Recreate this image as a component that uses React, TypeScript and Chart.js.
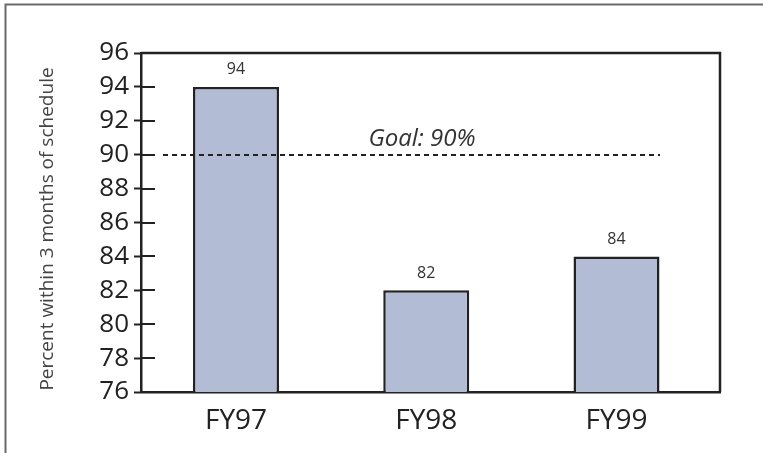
import React, { useEffect, useRef } from "react";
import { Chart, registerables } from "chart.js";

Chart.register(...registerables);

// Fiscal years and share of projects finished within 3 months of schedule (%)
const categories = ["FY97", "FY98", "FY99"];
const percentValues = [94, 82, 84];
const yTicks = [76, 78, 80, 82, 84, 86, 88, 90, 92, 94, 96];
const goalValue = 90;
const goalLabel = "Goal: 90%";
const yAxisTitle = "Percent within 3 months of schedule";

const FONT = "'Open Sans', 'Liberation Sans', sans-serif";
const INK = "#222222";

const decorPlugin = {
  id: "decor",
  beforeDraw(chart: any) {
    const { ctx } = chart;
    ctx.save();
    // outer frame (top and left edges)
    ctx.strokeStyle = "#6a6a6a";
    ctx.lineWidth = 2;
    ctx.beginPath();
    ctx.moveTo(5.5, chart.height);
    ctx.lineTo(5.5, 4.5);
    ctx.lineTo(chart.width, 4.5);
    ctx.stroke();

    // rotated axis title
    ctx.fillStyle = "#444";
    ctx.font = `19px ${FONT}`;
    ctx.textAlign = "center";
    ctx.textBaseline = "middle";
    ctx.translate(48, 229);
    ctx.rotate(-Math.PI / 2);
    ctx.fillText(yAxisTitle, 0, 0);
    ctx.restore();
  },
  afterDatasetsDraw(chart: any) {
    const { ctx, chartArea } = chart;
    const y = chart.scales.y;
    ctx.save();
    // plot frame: top and right edges
    ctx.strokeStyle = INK;
    ctx.lineWidth = 2.5;
    ctx.beginPath();
    ctx.moveTo(chartArea.left, chartArea.top);
    ctx.lineTo(chartArea.right, chartArea.top);
    ctx.lineTo(chartArea.right, chartArea.bottom);
    ctx.stroke();

    // inner part of the y tick marks
    ctx.lineWidth = 2;
    ctx.beginPath();
    yTicks.slice(1, -1).forEach((v) => {
      const py = Math.round(y.getPixelForValue(v));
      ctx.moveTo(chartArea.left, py);
      ctx.lineTo(chartArea.left + 14, py);
    });
    ctx.stroke();

    // goal line
    const gy = Math.round(y.getPixelForValue(goalValue));
    ctx.setLineDash([5, 4]);
    ctx.beginPath();
    ctx.moveTo(chartArea.left + 22, gy);
    ctx.lineTo(chartArea.right - 60, gy);
    ctx.stroke();
    ctx.setLineDash([]);

    ctx.fillStyle = "#333";
    ctx.font = `italic 24px ${FONT}`;
    ctx.textAlign = "center";
    ctx.textBaseline = "alphabetic";
    ctx.fillText(goalLabel, 422, gy - 9);

    // value labels over bars
    ctx.font = `16px ${FONT}`;
    ctx.textBaseline = "middle";
    const meta = chart.getDatasetMeta(0);
    meta.data.forEach((bar: any, i: number) => {
      ctx.fillText(String(percentValues[i]), bar.x, bar.y - 17);
    });
    ctx.restore();
  },
};

export default function App() {
  const canvasRef = useRef<HTMLCanvasElement>(null);

  useEffect(() => {
    const canvas = canvasRef.current;
    if (!canvas) return;
    const chart = new Chart(canvas, {
      type: "bar",
      data: {
        datasets: [
          {
            data: percentValues.map((v, i) => ({ x: i, y: v })),
            backgroundColor: "#b2bdd5",
            borderColor: INK,
            borderWidth: 2.5,
            borderSkipped: false,
            barPercentage: 0.452,
            categoryPercentage: 1,
          },
        ],
      },
      options: {
        responsive: false,
        animation: false,
        events: [],
        layout: { padding: { left: 0, top: 53, right: 43, bottom: 0 } },
        plugins: {
          legend: { display: false },
          tooltip: { enabled: false },
          title: { display: false },
        },
        scales: {
          x: {
            type: "linear",
            offset: false,
            min: -0.4993,
            max: 2.544,
            afterBuildTicks: (scale: any) => {
              scale.ticks = categories.map((_, i) => ({ value: i }));
            },
            afterFit: (scale: any) => {
              scale.height = 453 - 392;
            },
            grid: { display: false, drawTicks: false, offset: false },
            border: { display: true, color: INK, width: 2.5 },
            ticks: {
              autoSkip: false,
              maxRotation: 0,
              padding: 12,
              color: INK,
              font: { family: FONT, size: 28 },
              callback: (v: any) => categories[v] ?? "",
            },
          },
          y: {
            type: "linear",
            min: 76,
            max: 96,
            afterBuildTicks: (scale: any) => {
              scale.ticks = yTicks.map((v) => ({ value: v }));
            },
            afterFit: (scale: any) => {
              scale.width = 141;
            },
            grid: {
              display: true,
              drawOnChartArea: false,
              drawTicks: true,
              tickLength: 7,
              tickWidth: 2,
              tickColor: INK,
              color: INK,
            },
            border: { display: true, color: INK, width: 2.5 },
            ticks: {
              autoSkip: false,
              padding: 5,
              color: INK,
              font: { family: FONT, size: 26 },
            },
          },
        },
      },
      plugins: [decorPlugin],
    });
    return () => chart.destroy();
  }, []);

  return (
    <div style={{ position: "fixed", left: 0, top: 0, width: 763, height: 453, background: "#fff" }}>
      <canvas ref={canvasRef} width={763} height={453} style={{ display: "block" }} />
    </div>
  );
}
